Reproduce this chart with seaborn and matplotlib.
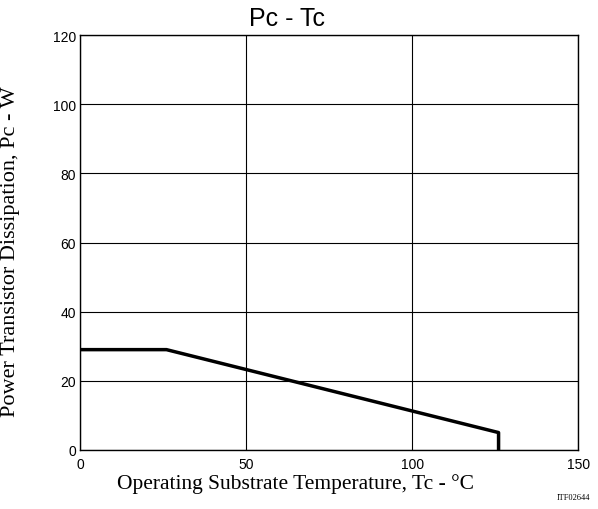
import matplotlib
matplotlib.use("Agg")
import matplotlib.pyplot as plt
import pandas as pd
import seaborn as sns

# derating curve
temp_c = [0, 26, 126, 126]
power_w = [29, 29, 5, 0]
x_ticks = [0, 50, 100, 150]
y_ticks = [0, 20, 40, 60, 80, 100, 120]

df = pd.DataFrame({"Tc": temp_c, "Pc": power_w})

sns.set_style("white")
plt.rcParams["font.family"] = ["Liberation Sans", "DejaVu Sans"]
plt.rcParams["text.color"] = "black"
plt.rcParams["axes.labelcolor"] = "black"

fig = plt.figure(figsize=(5.98, 5.10), dpi=100)
ax = fig.add_axes([0.134, 0.116, 0.833, 0.813])

sns.lineplot(data=df, x="Tc", y="Pc", sort=False, estimator=None,
             color="black", linewidth=2.5, ax=ax)

ax.set_xlim(0, 150)
ax.set_ylim(0, 120)
ax.set_xticks(x_ticks)
ax.set_yticks(y_ticks)
ax.grid(True, color="black", linewidth=0.8)
ax.tick_params(length=0, labelsize=10, colors="black")
ax.tick_params(axis="x", pad=5)
ax.tick_params(axis="y", pad=3)
for s in ax.spines.values():
    s.set_color("black")
    s.set_linewidth(1.0)

serif = ["Liberation Serif", "DejaVu Serif"]
ax.set_xlabel("Operating Substrate Temperature, Tc - °C", fontsize=15.5, family=serif)
ax.xaxis.set_label_coords(0.432, -0.056)
ax.set_ylabel("Power Transistor Dissipation, Pc - W", fontsize=16, family=serif)
ax.yaxis.set_label_coords(-0.12, 0.48)
ax.set_title("Pc - Tc", fontsize=18, color="black", x=0.416, y=1.0, pad=7)
fig.text(0.987, 0.024, "ITF02644", fontsize=6, family=serif, ha="right", va="center")

fig.savefig("out.png", dpi=100)
